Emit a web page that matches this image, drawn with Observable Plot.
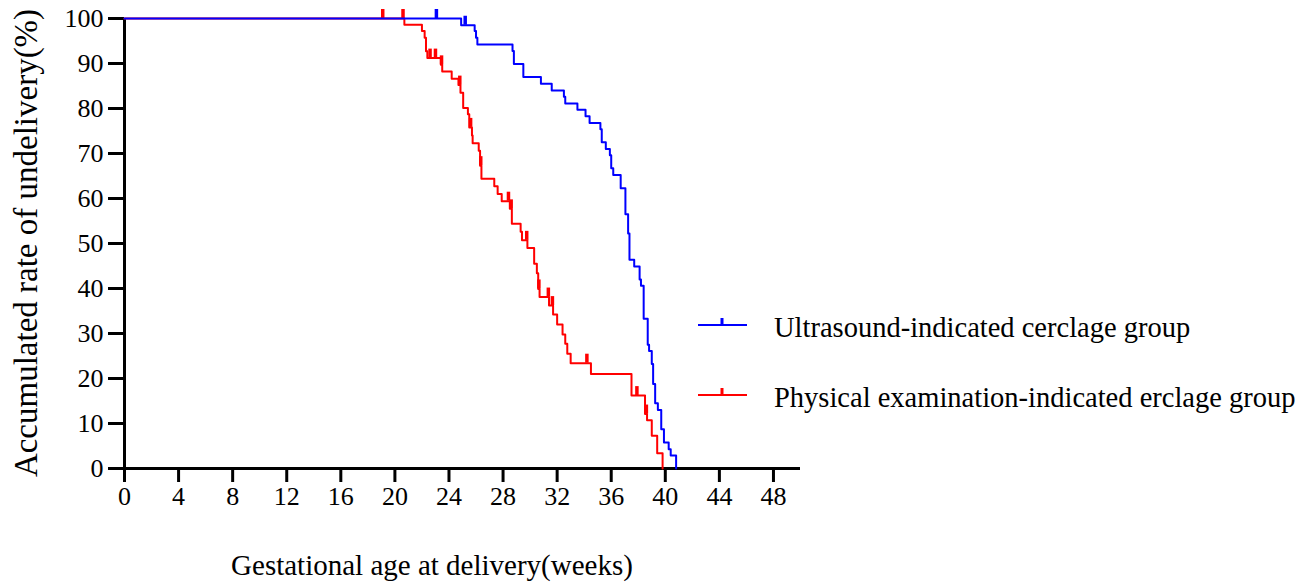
<!DOCTYPE html>
<html>
<head>
<meta charset="utf-8">
<script src="https://cdn.jsdelivr.net/npm/d3@7"></script>
<script src="https://cdn.jsdelivr.net/npm/@observablehq/plot@0.6"></script>
<style>
  html, body { margin: 0; padding: 0; background: #fff; }
  #chart { width: 1311px; height: 583px; }
</style>
</head>
<body>
<div id="chart"></div>
<script>
// Series names
const seriesNames = ["Ultrasound-indicated cerclage group", "Physical examination-indicated erclage group"];
const seriesColors = ["#0000ff", "#ff0000"];

// Ultrasound-indicated group: step times (weeks) and survival (%)
const usTimes = [0, 24.9, 25.9, 26.0, 26.1, 28.7, 28.8, 29.5, 30.8, 31.6, 32.5, 32.6, 33.5, 34.1, 34.4, 35.2, 35.3, 35.6, 35.9, 36.0, 36.15, 36.7, 37.05, 37.25, 37.35, 37.7, 38.1, 38.2, 38.4, 38.7, 38.8, 39.0, 39.1, 39.25, 39.45, 39.7, 39.9, 40.25, 40.4, 40.8];
const usSurv  = [100, 98.5, 97.2, 95.7, 94.2, 92.8, 89.9, 87.0, 85.5, 84.0, 82.6, 81.1, 79.7, 78.3, 76.8, 75.4, 72.5, 71.0, 69.6, 66.7, 65.2, 62.3, 56.5, 52.2, 46.4, 44.9, 42.0, 40.6, 33.3, 27.5, 26.1, 23.2, 18.8, 14.5, 13.0, 8.7, 5.8, 4.3, 2.9, 0];
const usCensored = [23.07, 25.2];

// Physical examination-indicated group
const peTimes = [0, 20.7, 22.0, 22.2, 22.3, 22.4, 23.4, 23.5, 24.2, 24.7, 24.85, 25.05, 25.4, 25.5, 25.7, 25.75, 26.2, 26.3, 26.4, 27.35, 27.6, 27.9, 28.5, 28.65, 29.3, 29.4, 29.8, 30.3, 30.5, 30.6, 30.7, 31.4, 31.7, 32.0, 32.4, 32.6, 32.75, 33.0, 34.5, 37.5, 38.5, 38.65, 39.0, 39.4, 39.8];
const peSurv  = [100, 98.6, 97.2, 95.7, 92.7, 91.2, 89.7, 88.2, 86.6, 85.2, 83.5, 80.1, 78.7, 75.8, 74.0, 72.3, 70.6, 67.3, 64.4, 62.7, 61.0, 59.4, 57.7, 54.4, 52.6, 50.7, 49.0, 45.5, 43.4, 39.9, 38.1, 36.2, 34.2, 32.0, 29.8, 27.7, 25.5, 23.4, 21.0, 16.2, 12.1, 10.7, 7.3, 3.4, 0];
const peCensored = [19.1, 20.6, 22.6, 23.0, 23.45, 24.8, 25.6, 26.35, 28.4, 28.6, 29.75, 30.65, 31.35, 31.65, 34.2, 37.9, 38.6];

// Axis ticks
const xTicks = [0, 4, 8, 12, 16, 20, 24, 28, 32, 36, 40, 44, 48];
const yTicks = [0, 10, 20, 30, 40, 50, 60, 70, 80, 90, 100];
const xTitle = "Gestational age at delivery(weeks)";
const yTitle = "Accumulated rate of undelivery(%)";

function stepAt(times, surv, t) {
  let v = surv[0];
  for (let i = 0; i < times.length; i++) if (times[i] <= t) v = surv[i];
  return v;
}

const usLine = usTimes.map((t, i) => ({series: seriesNames[0], t, s: usSurv[i]}));
const peLine = peTimes.map((t, i) => ({series: seriesNames[1], t, s: peSurv[i]}));
const usCens = usCensored.map(t => ({t, s: stepAt(usTimes, usSurv, t)}));
const peCens = peCensored.map(t => ({t, s: stepAt(peTimes, peSurv, t)}));

const font = "'Liberation Serif', 'Times New Roman', serif";

const plot = Plot.plot({
  width: 1311,
  height: 583,
  marginLeft: 124,
  marginRight: 511,
  marginTop: 18,
  marginBottom: 115,
  style: {fontFamily: font, fontSize: "26px", color: "#000", background: "#fff", overflow: "visible"},
  x: {domain: [0, 50]},
  y: {domain: [0, 100]},
  marks: [
    Plot.axisX({ticks: xTicks, tickSize: 14, tickPadding: 4, strokeWidth: 3, fontSize: 26,
      label: null}),
    Plot.axisY({ticks: yTicks, tickSize: 16, tickPadding: 5, strokeWidth: 3, fontSize: 26,
      label: null}),
    Plot.ruleX([0], {strokeWidth: 3, stroke: "#000"}),
    Plot.ruleY([0], {strokeWidth: 3, stroke: "#000"}),
    Plot.line(peLine, {x: "t", y: "s", curve: "step-after", stroke: seriesColors[1], strokeWidth: 2}),
    Plot.ruleX(peCens, {x: "t", y1: "s", y2: d => d.s + 2, stroke: seriesColors[1], strokeWidth: 3.5}),
    Plot.line(usLine, {x: "t", y: "s", curve: "step-after", stroke: seriesColors[0], strokeWidth: 2}),
    Plot.ruleX(usCens, {x: "t", y1: "s", y2: d => d.s + 2, stroke: seriesColors[0], strokeWidth: 3.5})
  ]
});

const svg = d3.select(plot);
// Axis titles
svg.append("text").attr("x", 432).attr("y", 575).attr("text-anchor", "middle")
  .attr("font-family", font).attr("font-size", 29).attr("fill", "#000").text(xTitle);
svg.append("text").attr("transform", "translate(37,243) rotate(-90)").attr("text-anchor", "middle")
  .attr("font-family", font).attr("font-size", 33).attr("fill", "#000").text(yTitle);

// Legend
seriesNames.forEach((name, i) => {
  const y = 325 + i * 70;
  const g = svg.append("g");
  g.append("line").attr("x1", 698).attr("x2", 747).attr("y1", y).attr("y2", y)
    .attr("stroke", seriesColors[i]).attr("stroke-width", 2);
  g.append("line").attr("x1", 722).attr("x2", 722).attr("y1", y).attr("y2", y - 7)
    .attr("stroke", seriesColors[i]).attr("stroke-width", 3);
  g.append("text").attr("x", 774).attr("y", y + 12).attr("text-anchor", "start")
    .attr("font-family", font).attr("font-size", 28.5).attr("fill", "#000").text(name);
});

document.getElementById("chart").appendChild(plot);
</script>
</body>
</html>
